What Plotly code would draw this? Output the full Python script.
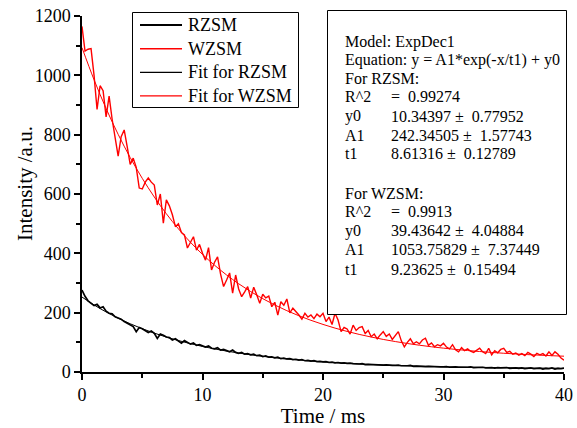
import plotly.graph_objects as go

# Time axis of measured data (ms), step 0.25
time_data = [i * 0.25 for i in range(161)]

rzsm = [
    276, 255, 240, 232, 224, 228, 216, 220,
    205, 198, 196, 186, 182, 178, 170, 165,
    160, 153, 136, 150, 146, 140, 133, 138,
    130, 113, 128, 124, 118, 116, 108, 112,
    104, 97, 106, 100, 94, 98, 90, 92,
    87, 84, 88, 80, 78, 82, 74, 76,
    72, 68, 74, 66, 63, 66, 60, 62,
    58, 60, 55, 57, 52, 54, 50, 51,
    48, 50, 45, 47, 44, 45, 42, 43,
    40, 42, 38, 39, 37, 38, 35, 36,
    34, 35, 32, 33, 31, 32, 30, 31,
    29, 30, 28, 27, 27, 28, 25, 26,
    25, 26, 24, 23, 23, 24, 22, 22,
    22, 23, 21, 20, 21, 22, 19, 20,
    19, 20, 18, 19, 18, 19, 17, 17,
    17, 18, 16, 17, 17, 16, 15, 16,
    16, 17, 15, 16, 15, 16, 14, 15,
    15, 13, 15, 14, 14, 15, 12, 14,
    14, 12, 14, 11, 13, 14, 11, 12,
    13, 10, 12, 11, 14, 10, 12, 11,
    13,
]

wzsm = [
    1165, 1082, 1088, 1090, 1000, 885, 965, 948,
    860, 930, 852, 790, 728, 793, 816, 760,
    700, 721, 690, 620, 617, 640, 654, 640,
    630, 563, 600, 502, 580, 560, 530, 490,
    500, 470, 462, 418, 440, 456, 411, 430,
    400, 377, 419, 344, 370, 388, 330, 288,
    310, 334, 266, 327, 280, 254, 270, 288,
    249, 286, 260, 232, 262, 250, 256, 220,
    235, 192, 237, 225, 246, 199, 215, 205,
    192, 178, 198, 185, 192, 180, 195, 186,
    198, 170, 185, 160, 198, 175, 136, 150,
    145, 128, 158, 140, 150, 153, 130, 140,
    119, 128, 112, 125, 136, 120, 128, 110,
    125, 136, 105, 85, 100, 112, 95, 102,
    95, 108, 114, 90, 98, 85, 92, 88,
    97, 84, 78, 92, 75, 68, 82, 72,
    78, 70, 66, 74, 80, 68, 62, 80,
    58, 72, 65, 76, 80, 66, 70, 60,
    64, 57, 62, 55, 66, 60, 52, 63,
    58, 62, 54, 68, 56, 68, 60, 47,
    40,
]

# Fit curves read at 1 ms steps
time_fit = list(range(41))
fit_rzsm = [
    252.6, 226.0, 202.4, 181.3, 162.6, 145.9, 131.1, 117.8, 106.0, 95.5,
    86.2, 77.9, 70.5, 63.9, 58.0, 52.8, 48.1, 44.0, 40.3, 37.0,
    34.1, 31.5, 29.2, 27.1, 25.2, 23.6, 22.1, 20.9, 19.7, 18.7,
    17.7, 16.9, 16.2, 15.6, 15.0, 14.5, 14.0, 13.6, 13.2, 12.9, 12.6,
]
fit_wzsm = [
    1093.2, 985.1, 888.1, 801.1, 722.9, 652.8, 589.9, 533.4, 482.7, 437.3,
    396.4, 359.9, 327.0, 297.5, 271.0, 247.2, 225.9, 206.7, 189.6, 174.2,
    160.4, 147.9, 136.8, 126.8, 117.9, 109.8, 102.6, 96.1, 90.3, 85.0,
    80.4, 76.2, 72.4, 69.0, 66.0, 63.2, 60.8, 58.6, 56.7, 54.9, 53.3,
]

x_ticks = [0, 10, 20, 30, 40]
y_ticks = [0, 200, 400, 600, 800, 1000, 1200]

series_names = ["RZSM", "WZSM", "Fit for RZSM", "Fit for WZSM"]
series_colors = ["black", "#ff0000", "black", "#ff0000"]
series_widths = [1.7, 1.4, 1.0, 1.0]

stats_labels = ["Model: ExpDec1", "Equation: y = A1*exp(-x/t1) + y0", "For RZSM:",
                "R^2", "y0", "A1", "t1", "", "For WZSM:", "R^2", "y0", "A1", "t1"]
stats_values = ["", "", "", "=\u00a0\u00a00.99274", "10.34397 \u00b1\u00a0\u00a00.77952",
                "242.34505 \u00b1\u00a0\u00a01.57743", "8.61316 \u00b1\u00a0\u00a00.12789", "", "",
                "=\u00a0\u00a00.9913", "39.43642 \u00b1\u00a0\u00a04.04884",
                "1053.75829 \u00b1\u00a0\u00a07.37449", "9.23625 \u00b1\u00a0\u00a00.15494"]

FONT = "Liberation Serif, Times New Roman, serif"
W, H = 577, 428
L, R, T, B = 82, 13, 16, 56
PW, PH = W - L - R, H - T - B


def px_x(p):
    return (p - L) / PW


def px_y(p):
    return (H - B - p) / PH


fig = go.Figure()
xs = [time_data, time_data, time_fit, time_fit]
yv = [rzsm, wzsm, fit_rzsm, fit_wzsm]
for i in range(4):
    fig.add_trace(go.Scatter(x=xs[i], y=yv[i], mode="lines", name=series_names[i],
                             showlegend=False,
                             line=dict(color=series_colors[i], width=series_widths[i],
                                       shape="spline" if i >= 2 else "linear")))

# Legend box (drawn to match the original's compact layout)
fig.add_shape(type="rect", xref="paper", yref="paper",
              x0=px_x(132.5), x1=px_x(298.5), y0=px_y(107.5), y1=px_y(12.5),
              line=dict(color="black", width=1), fillcolor="white", layer="above")
leg_rows = [25, 48.7, 72.3, 95.8]
for i in range(4):
    fig.add_shape(type="line", xref="paper", yref="paper",
                  x0=px_x(140), x1=px_x(182), y0=px_y(leg_rows[i]), y1=px_y(leg_rows[i]),
                  line=dict(color=series_colors[i], width=series_widths[i] + 0.2), layer="above")
    fig.add_annotation(x=px_x(186), y=px_y(leg_rows[i]), xref="paper", yref="paper",
                       text=series_names[i], showarrow=False, xanchor="left", yanchor="middle",
                       font=dict(family=FONT, size=18, color="black"))

# Stats box
fig.add_shape(type="rect", xref="paper", yref="paper",
              x0=px_x(327.5), x1=px_x(566.5), y0=px_y(314.5), y1=px_y(10.5),
              line=dict(color="black", width=1), fillcolor="white", layer="above")
ys = [41.7, 60.3, 78.5, 97, 116, 135, 154, 0, 193.3, 211.7, 230.7, 250, 269.3]
for lab, val, yy in zip(stats_labels, stats_values, ys):
    if lab:
        fig.add_annotation(x=px_x(343), y=px_y(yy), xref="paper", yref="paper",
                           text=lab, showarrow=False, xanchor="left", yanchor="middle",
                           font=dict(family=FONT, size=16, color="black"))
    if val:
        fig.add_annotation(x=px_x(389), y=px_y(yy), xref="paper", yref="paper",
                           text=val, showarrow=False, xanchor="left", yanchor="middle",
                           font=dict(family=FONT, size=16, color="black"))

# Y axis title
fig.add_annotation(x=px_x(25), y=px_y(184), xref="paper", yref="paper",
                   text="Intensity /a.u.", textangle=-90, showarrow=False,
                   xanchor="center", yanchor="middle",
                   font=dict(family=FONT, size=21, color="black"))

axis_common = dict(showline=True, linecolor="black", linewidth=1.5, ticks="outside",
                   ticklen=6, tickwidth=1.5, tickcolor="black", showgrid=False,
                   zeroline=False, mirror=False, automargin=False,
                   tickfont=dict(family=FONT, size=18, color="black"))

fig.update_layout(
    width=W, height=H,
    margin=dict(l=L, r=R, t=T, b=B, autoexpand=False),
    paper_bgcolor="white", plot_bgcolor="white",
    font=dict(family=FONT, color="black"),
    xaxis=dict(range=[0, 40], tickvals=x_ticks, **axis_common,
               minor=dict(ticks="outside", dtick=5, ticklen=4, tickwidth=1.5, tickcolor="black"),
               title=dict(text="Time / ms", font=dict(family=FONT, size=21), standoff=4)),
    yaxis=dict(range=[0, 1200], tickvals=y_ticks, **axis_common,
               minor=dict(ticks="outside", dtick=100, ticklen=4, tickwidth=1.5, tickcolor="black")),
    showlegend=False,
)

fig.write_html("out.html", config={"displayModeBar": False},
               post_script="document.body.style.margin='0';")
